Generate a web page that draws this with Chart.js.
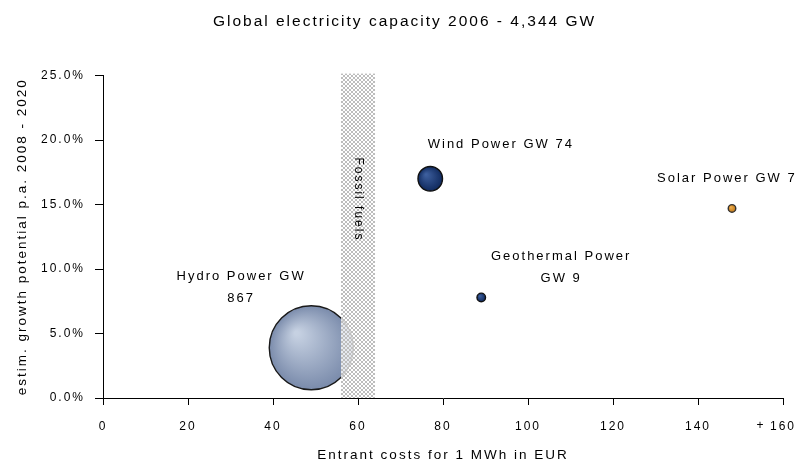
<!DOCTYPE html>
<html>
<head>
<meta charset="utf-8">
<script src="https://cdn.jsdelivr.net/npm/chart.js@4.4.1/dist/chart.umd.min.js"></script>
<style>
    html, body { margin: 0; padding: 0; background: #fff; }
    #wrap { width: 799px; height: 469px; }
</style>
</head>
<body>
<div id="wrap"><canvas id="grafico" width="799" height="469"></canvas></div>
<script>
// dati ------------------------------------------------------------
const fonti = ['Hydro Power', 'Wind Power', 'Geothermal Power', 'Solar Power'];
const costi = [49, 77, 89, 148];          // EUR per MWh
const crescita = [3.9, 17.0, 7.8, 14.7];  // % p.a.
const capacita = [867, 74, 9, 7];         // GW
const etichette = [
    ['Hydro Power GW', '867'],
    ['Wind Power GW 74'],
    ['Geothermal Power', 'GW 9'],
    ['Solar Power GW 7']
];
const etichetteX = [32.5, 93.6, 107.8, 146.8];
const etichetteY = [9.4, 19.7, 11.0, 17.0];
const fossiliDa = 56;
const fossiliA = 64;
const ticksX = ['0', '20', '40', '60', '80', '100', '120', '140', '160'];
const ticksY = ['0.0%', '5.0%', '10.0%', '15.0%', '20.0%', '25.0%'];

const FONT = "'Liberation Sans', Arial, sans-serif";
const SPAZIO = '2px';

function raggio(gw) {
    return 42 * Math.sqrt(gw / capacita[0]); // area proporzionale ai GW
}

// colori delle bolle: [luce, ombra, bordo]
const coloriBolle = [
    ['#c6d1e2', '#7a8bab', '#1a1a1a'],
    ['#3d5f9e', '#102a5e', '#111'],
    ['#3d5f9e', '#102a5e', '#111'],
    ['#f0b050', '#c07818', '#333']
];

function coloreBolla(context) {
    const i = context.dataIndex;
    const chart = context.chart;
    const raw = context.raw;
    if (!raw || !chart.scales || !chart.scales.x) return coloriBolle[i][1];
    const x = chart.scales.x.getPixelForValue(raw.x);
    const y = chart.scales.y.getPixelForValue(raw.y);
    if (!isFinite(x) || !isFinite(y)) return coloriBolle[i][1];
    const r = raggio(capacita[i]);
    const g = chart.ctx.createRadialGradient(x - r * 0.35, y - r * 0.35, r * 0.05, x, y, r);
    g.addColorStop(0, coloriBolle[i][0]);
    g.addColorStop(1, coloriBolle[i][1]);
    return g;
}

let trama = null;
function dammiTrama(ctx) {
    if (trama) return trama;
    const c = document.createElement('canvas');
    c.width = 4;
    c.height = 4;
    const g = c.getContext('2d');
    g.fillStyle = 'rgba(255,255,255,0.8)';
    g.fillRect(0, 0, 4, 4);
    g.fillStyle = '#bdbdbd';
    for (let i = 0; i < 4; i++) {
        g.fillRect(i, i, 1, 1);
        g.fillRect(3 - i, i, 1, 1);
    }
    trama = ctx.createPattern(c, 'repeat');
    return trama;
}

// spaziatura lettere come nell'originale
const pluginSpazio = {
    id: 'spazio',
    beforeUpdate(chart) { chart.ctx.letterSpacing = SPAZIO; },
    beforeDraw(chart) { chart.ctx.letterSpacing = SPAZIO; }
};

// fascia "Fossil fuels" + etichette delle bolle
const pluginFossili = {
    id: 'fossili',
    afterDatasetsDraw(chart) {
        const ctx = chart.ctx;
        const sx = chart.scales.x;
        const sy = chart.scales.y;
        const x1 = sx.getPixelForValue(fossiliDa);
        const x2 = sx.getPixelForValue(fossiliA);
        const top = sy.getPixelForValue(25) - 2;
        const bottom = sy.getPixelForValue(0);
        ctx.save();
        ctx.fillStyle = dammiTrama(ctx);
        ctx.fillRect(x1, top, x2 - x1, bottom - top);
        ctx.translate((x1 + x2) / 2, sy.getPixelForValue(15.4));
        ctx.rotate(Math.PI / 2);
        ctx.fillStyle = '#000';
        ctx.font = '12px ' + FONT;
        ctx.textAlign = 'center';
        ctx.textBaseline = 'middle';
        ctx.fillText('Fossil fuels', 0, 0);
        ctx.restore();

        ctx.save();
        ctx.fillStyle = '#000';
        ctx.font = '13px ' + FONT;
        ctx.textAlign = 'center';
        ctx.textBaseline = 'middle';
        for (let i = 0; i < etichette.length; i++) {
            const px = sx.getPixelForValue(etichetteX[i]);
            const py = sy.getPixelForValue(etichetteY[i]);
            etichette[i].forEach((riga, k) => {
                ctx.fillText(riga, px, py + k * 22);
            });
        }
        // il "+" davanti all'ultima etichetta dell'asse X
        ctx.font = '12px ' + FONT;
        ctx.fillText('+', sx.getPixelForValue(160) - 22, sx.top + 7 + 14 + 7);
        ctx.restore();
    }
};

const ctxGrafico = document.getElementById('grafico').getContext('2d');
const grafico = new Chart(ctxGrafico, {
    type: 'bubble',
    data: {
        datasets: [{
            label: 'Capacity GW',
            data: fonti.map((f, i) => ({ x: costi[i], y: crescita[i], r: raggio(capacita[i]) })),
            backgroundColor: coloreBolla,
            borderColor: ctx => coloriBolle[ctx.dataIndex][2],
            borderWidth: 1.4
        }]
    },
    options: {
        responsive: false,
        animation: false,
        events: [],
        layout: { autoPadding: false, padding: { left: 10, right: 0, top: 0, bottom: 0 } },
        scales: {
            x: {
                type: 'linear',
                min: 0,
                max: 160,
                // spazio a destra dell'asse (16px) come nell'originale
                afterFit: s => { s.height = 71; s.paddingRight = 16; s.paddingLeft = 0; },
                grid: { drawOnChartArea: false, drawTicks: true, tickLength: 7, color: '#000' },
                border: { display: true, color: '#000', width: 1 },
                ticks: {
                    stepSize: 20,
                    padding: 14,
                    color: '#000',
                    font: { family: FONT, size: 12 },
                    callback: (v, i) => ticksX[i]
                },
                title: {
                    display: true,
                    text: 'Entrant costs for 1 MWh in EUR',
                    color: '#000',
                    font: { family: FONT, size: 13.5 },
                    padding: { top: 0, bottom: 6 }
                }
            },
            y: {
                type: 'linear',
                min: 0,
                max: 25,
                afterFit: s => { s.width = 93; },
                grid: { drawOnChartArea: false, drawTicks: true, tickLength: 8, color: '#000' },
                border: { display: true, color: '#000', width: 1 },
                ticks: {
                    stepSize: 5,
                    padding: 10,
                    color: '#000',
                    font: { family: FONT, size: 12 },
                    callback: (v, i) => ticksY[i]
                },
                title: {
                    display: true,
                    text: 'estim. growth potential p.a. 2008 - 2020',
                    color: '#000',
                    font: { family: FONT, size: 13.5 },
                    padding: { top: 4, bottom: 0 }
                }
            }
        },
        plugins: {
            legend: { display: false },
            tooltip: { enabled: false },
            title: {
                display: true,
                text: 'Global electricity capacity 2006 - 4,344 GW',
                color: '#000',
                font: { family: FONT, size: 15.5, weight: 'normal' },
                padding: { top: 12, bottom: 45 }
            }
        }
    },
    plugins: [pluginSpazio, pluginFossili]
});
</script>
</body>
</html>
